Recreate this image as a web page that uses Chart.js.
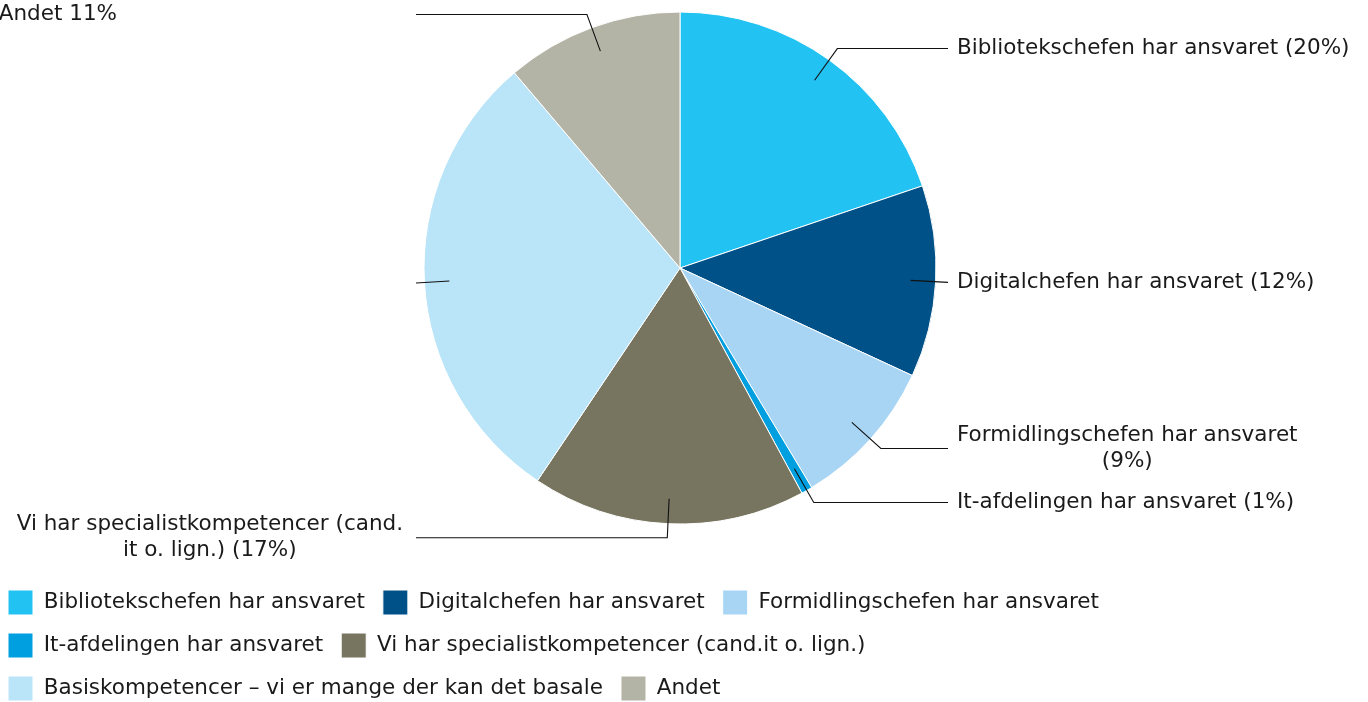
<!DOCTYPE html>
<html>
<head>
<meta charset="utf-8">
<script src="https://cdn.jsdelivr.net/npm/chart.js@4/dist/chart.umd.min.js"></script>
<style>
  html, body { margin: 0; padding: 0; background: #fff; overflow: hidden; }
  #view { width: 1368px; height: 702px; position: relative; overflow: hidden; }
  /* lærredet er lidt større end billedet, så lagkagen kan ligge som i originalen */
  #wrap { position: absolute; left: -10px; top: -36px; width: 1380px; height: 747px; }
</style>
</head>
<body>
<div id="view"><div id="wrap"><canvas id="chart"></canvas></div></div>
<script>
// Kategorier (legend)
const categories = [
  'Bibliotekschefen har ansvaret',
  'Digitalchefen har ansvaret',
  'Formidlingschefen har ansvaret',
  'It-afdelingen har ansvaret',
  'Vi har specialistkompetencer (cand.it o. lign.)',
  'Basiskompetencer – vi er mange der kan det basale',
  'Andet'
];
// Andele i procent (aflæst af figuren)
const shares = [19.8, 12.1, 9.5, 0.7, 17.3, 29.4, 11.2];
// Tekster ved udtræksstregerne (\n = linjeskift som i originalen)
const sliceLabels = [
  'Bibliotekschefen har ansvaret (20%)',
  'Digitalchefen har ansvaret (12%)',
  'Formidlingschefen har ansvaret\n(9%)',
  'It-afdelingen har ansvaret (1%)',
  'Vi har specialistkompetencer (cand.\nit o. lign.) (17%)',
  '',
  'Andet 11%'
];
const colors = ['#22c3f3', '#005187', '#a9d5f5', '#009fe0', '#777560', '#bae5f9', '#b4b4a6'];

const FONT = '"DejaVu Sans", Verdana, sans-serif';
const FONT_SIZE = 21.5;
const TEXT_COLOR = '#1a1a1a';
// forskydning mellem lærred og det synlige billede
const OFF_X = 10;

// Plugin: udtræksstreger + etiketter uden for lagkagen
const leaderPlugin = {
  id: 'leaderPlugin',
  afterDatasetsDraw(chart, args, opts) {
    const {ctx} = chart;
    const meta = chart.getDatasetMeta(0);
    ctx.save();
    ctx.font = FONT_SIZE + 'px ' + FONT;
    ctx.fillStyle = TEXT_COLOR;
    ctx.strokeStyle = '#111';
    ctx.lineWidth = 1.1;
    ctx.textBaseline = 'middle';
    ctx.textAlign = 'center';

    meta.data.forEach((arc, i) => {
      const p = arc.getProps(['x', 'y', 'startAngle', 'endAngle', 'outerRadius'], true);
      const mid = (p.startAngle + p.endAngle) / 2;
      const cos = Math.cos(mid), sin = Math.sin(mid);
      const right = cos >= 0;
      const xEnd = (right ? opts.rightLineX : opts.leftLineX) + OFF_X;
      const r0 = p.outerRadius - 25, r1 = p.outerRadius + 14;
      const x0 = p.x + cos * r0, y0 = p.y + sin * r0;
      let x1 = p.x + cos * r1, y1 = p.y + sin * r1;
      // knækket må ikke gå forbi stregens ende
      if (right ? x1 > xEnd : x1 < xEnd) {
        const k = (xEnd - p.x) / cos;
        x1 = xEnd;
        y1 = p.y + sin * k;
      }

      ctx.beginPath();
      ctx.moveTo(x0, y0);
      ctx.lineTo(x1, y1);
      ctx.lineTo(xEnd, y1);
      ctx.stroke();

      const text = sliceLabels[i];
      if (!text) return;
      const lines = text.split('\n');
      const blockW = Math.max(...lines.map(l => ctx.measureText(l).width));
      let cx;
      if (right) {
        cx = opts.rightTextX + OFF_X + blockW / 2;
      } else {
        cx = opts.leftTextX + OFF_X + (opts.shift[i] || 0) - blockW / 2;
      }
      const top = y1 - (lines.length - 1) * opts.lineHeight / 2;
      lines.forEach((l, k) => ctx.fillText(l, cx, top + k * opts.lineHeight));
    });
    ctx.restore();
  }
};

new Chart(document.getElementById('chart'), {
  type: 'pie',
  data: {
    labels: categories,
    datasets: [{
      data: shares,
      backgroundColor: colors,
      borderColor: '#fff',
      borderWidth: 1
    }]
  },
  options: {
    responsive: true,
    maintainAspectRatio: false,
    animation: false,
    radius: 256,
    layout: { padding: 0 },
    plugins: {
      legend: {
        position: 'bottom',
        align: 'start',
        labels: {
          boxWidth: 25,
          boxHeight: 25,
          padding: 18,
          color: TEXT_COLOR,
          font: { family: FONT, size: FONT_SIZE }
        }
      },
      tooltip: { enabled: false },
      leaderPlugin: {
        rightLineX: 948,
        leftLineX: 416,
        rightTextX: 957,
        leftTextX: 403,
        lineHeight: 26,
        shift: { 6: -286 }
      }
    }
  },
  plugins: [leaderPlugin]
});
</script>
</body>
</html>
